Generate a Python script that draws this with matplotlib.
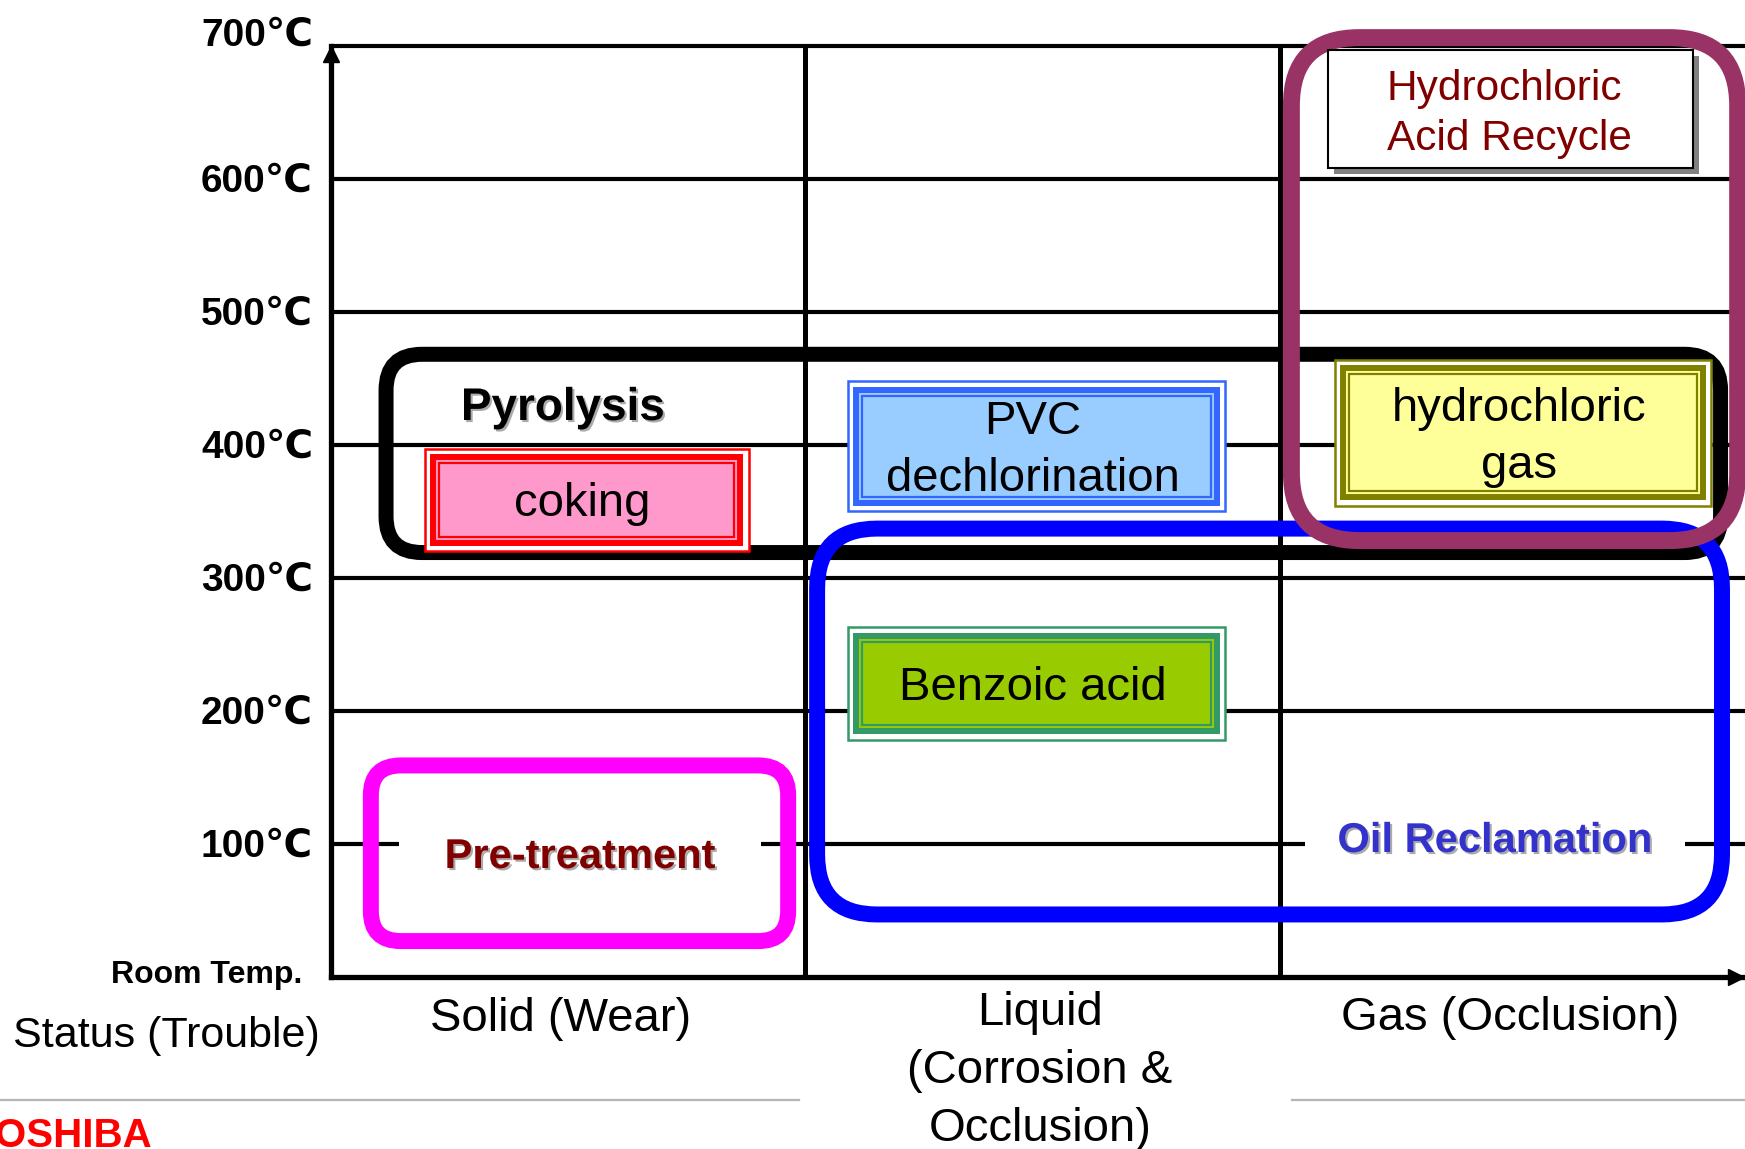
import matplotlib.pyplot as plt
import matplotlib.patheffects as pe
from matplotlib.patches import Rectangle, FancyBboxPatch
from matplotlib.lines import Line2D

plt.rcParams['font.family'] = ['Liberation Sans', 'DejaVu Sans']

# temperature grid (deg C) and state columns
temps = [100, 200, 300, 400, 500, 600, 700]
temp_labels = ['100℃', '200℃', '300℃', '400℃', '500℃', '600℃', '700℃']
states = ['Solid (Wear)', 'Liquid\n(Corrosion &\nOcclusion)', 'Gas (Occlusion)']

# process regions (x in state columns, t in deg C)
region_names = ['Pre-treatment', 'Pyrolysis', 'Oil Reclamation', 'Hydrochloric\nAcid Recycle']
region_x0 = [0.085, 0.117, 1.025, 2.024]
region_x1 = [0.964, 2.928, 2.931, 2.964]
region_t0 = [27, 319, 47, 328]
region_t1 = [159, 468, 337, 706]
region_colors = ['#ff00ff', '#000000', '#0000ff', '#993366']

# phenomena boxes
box_names = ['coking', 'PVC\ndechlorination', 'Benzoic acid', 'hydrochloric\ngas']
box_x0 = [0.195, 1.086, 1.086, 2.112]
box_x1 = [0.884, 1.888, 1.888, 2.912]
box_t0 = [319, 349, 177, 353]
box_t1 = [398, 449, 264, 465]
box_fill = ['#ff99cc', '#99ccff', '#99cc00', '#ffff99']
box_edge = ['#ff0000', '#3366ff', '#339966', '#808000']

# layout (pixels of the 1745x1149 picture)
W, H = 1745, 1149
X0, Y0, YTOP = 330.5, 977, 45.6
COL = 474.75
PXT = 700 / (Y0 - YTOP)
ASPECT = PXT * COL


def dx(p):
    return p / COL


def dt(p):
    return p * PXT


def tx(px):
    return (px - X0) / COL


def ty(py):
    return (Y0 - py) * PXT


fig = plt.figure(figsize=(W / 100, H / 100), dpi=100)
ax = fig.add_axes([X0 / W, 1 - Y0 / H, 1 - X0 / W, (Y0 - YTOP) / H])
xmax = (W - X0) / COL
ax.set_xlim(0, xmax)
ax.set_ylim(0, 700)
ax.set_xticks([])
ax.set_yticks([])
for s in ['top', 'right']:
    ax.spines[s].set_visible(False)
for s in ['left', 'bottom']:
    ax.spines[s].set_linewidth(3.8)

# grid
ax.hlines(temps, 0, xmax, color='k', lw=3, zorder=1, clip_on=False)
ax.vlines([1, 2], 0, 700, color='k', lw=3.6, zorder=1)
ax.plot(0, 700 - dt(8.5), '^k', ms=11, clip_on=False, zorder=3)
ax.plot(tx(1736), 0, '>k', ms=11, clip_on=False, zorder=3)

# axis labels
for t, lab in zip(temps, temp_labels):
    off = 0 if t == temps[-1] else dt(13)
    ax.text(tx(313), t - off, lab, ha='right', va='baseline',
            fontsize=28, fontweight='bold')
ax.text(tx(302), ty(983), 'Room Temp.', ha='right', va='baseline',
        fontsize=23, fontweight='bold')
fig.text(13 / W, 1 - 1047 / H, 'Status (Trouble)', fontsize=31, va='baseline')

state_x = [561, 1040, 1510]
state_base = [1031, 1025, 1030]
for sx, sb, lab in zip(state_x, state_base, states):
    for j, line in enumerate(lab.split('\n')):
        ax.text(tx(sx), ty(sb + j * 58), line, ha='center', va='baseline',
                fontsize=34)

# decorations of the slide
fig.add_artist(Line2D([0, 799 / W], [1 - 1100 / H] * 2, color='#b5b5b5', lw=1.6))
fig.add_artist(Line2D([1292 / W, 1], [1 - 1100 / H] * 2, color='#b5b5b5', lw=1.6))
fig.text(152 / W, 1 - 1147 / H, 'TOSHIBA', color='#ff0000', fontsize=29,
         fontweight='bold', ha='right', va='baseline')

# process regions
region_lw = [11.5, 10.8, 11.5, 12.2]
region_r = [30, 36, 60, 68]
region_z = [3, 4, 4.5, 6]
for i in range(len(region_names)):
    ax.add_patch(FancyBboxPatch(
        (region_x0[i], region_t0[i]), region_x1[i] - region_x0[i],
        region_t1[i] - region_t0[i],
        boxstyle=f'round,pad=0,rounding_size={dx(region_r[i])}',
        mutation_aspect=ASPECT, fc='none', ec=region_colors[i],
        lw=region_lw[i], zorder=region_z[i], clip_on=False))

shadow = [pe.SimplePatchShadow(offset=(1.5, -1.5), shadow_rgbFace='#aaaaaa', alpha=1.0),
          pe.Normal()]
ax.text(tx(580), ty(868), region_names[0], ha='center', va='baseline',
        fontsize=30, fontweight='bold', color='#800000', path_effects=shadow,
        bbox=dict(boxstyle='square,pad=1.1', fc='white', ec='none'), zorder=2)
ax.text(tx(563), ty(420), region_names[1], ha='center', va='baseline',
        fontsize=33, fontweight='bold', color='black', path_effects=shadow, zorder=7)
ax.text(tx(1495), ty(852), region_names[2], ha='center', va='baseline',
        fontsize=30, fontweight='bold', color='#3333cc', path_effects=shadow,
        bbox=dict(boxstyle='square,pad=0.77', fc='white', ec='none'), zorder=2)

# acid recycle label box with shadow
hx0, hx1, ht0, ht1 = tx(1328), tx(1693), ty(168), ty(50)
ax.add_patch(Rectangle((hx0 + dx(6), ht0 - dt(6)), hx1 - hx0, ht1 - ht0,
                       fc='#808080', ec='none', zorder=6.5, clip_on=False))
ax.add_patch(Rectangle((hx0, ht0), hx1 - hx0, ht1 - ht0, fc='white', ec='black',
                       lw=1.5, zorder=6.6, clip_on=False))
for j, line in enumerate(region_names[3].split('\n')):
    ax.text(tx(1387), ty(100 + j * 50), line, ha='left', va='baseline',
            fontsize=30.5, color='#800000', zorder=7)

# phenomena boxes
for i in range(len(box_names)):
    x0, x1, t0, t1 = box_x0[i], box_x1[i], box_t0[i], box_t1[i]
    for ins, fc, lw in [(1.5, 'white', 1.8), (10, box_fill[i], 4.3), (16, 'none', 1.6)]:
        ax.add_patch(Rectangle((x0 + dx(ins), t0 + dt(ins)),
                               x1 - x0 - 2 * dx(ins), t1 - t0 - 2 * dt(ins),
                               fc=fc, ec=box_edge[i], lw=lw, zorder=5))
    lines = box_names[i].split('\n')
    n = len(lines)
    cx, ct = (x0 + x1) / 2 - dx(4), (t0 + t1) / 2
    for j, line in enumerate(lines):
        ax.text(cx, ct - dt(16.5) + ((n - 1) / 2 - j) * dt(57), line,
                ha='center', va='baseline', fontsize=34, zorder=7)

fig.savefig('out.png', dpi=100)
